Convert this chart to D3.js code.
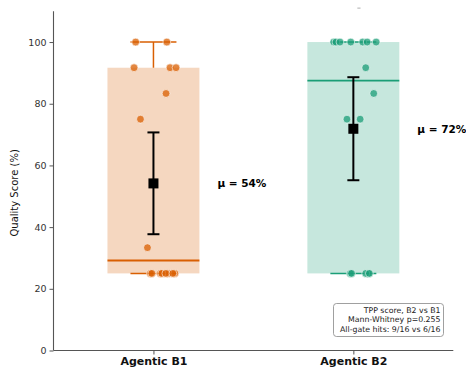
<!DOCTYPE html>
<html>
<head>
<meta charset="utf-8">
<script src="https://cdn.jsdelivr.net/npm/d3@7"></script>
<style>
  body { margin: 0; background: #fff; }
  text { font-family: "DejaVu Sans", sans-serif; }
</style>
</head>
<body>
<div id="vis"></div>
<script>
// Quality score box plot, Agentic B1 vs B2

const FRAME_WIDTH = 466;
const FRAME_HEIGHT = 369;
const MARGINS = {left: 53.5, right: 12.7, top: 11.2, bottom: 18.5};

const VIS_WIDTH = FRAME_WIDTH - MARGINS.left - MARGINS.right;
const VIS_HEIGHT = FRAME_HEIGHT - MARGINS.top - MARGINS.bottom;

// data
const GROUPS = ["Agentic B1", "Agentic B2"];
const COLORS = ["#d95f02", "#1b9e77"];
const Y_TICKS = [0, 20, 40, 60, 80, 100];

const B1_SCORES = [100, 100, 91.67, 91.67, 91.67, 83.33, 75, 33.33,
                   25, 25, 25, 25, 25, 25, 25, 25];
const B1_JITTER = [-0.089, 0.067, -0.097, 0.083, 0.113, 0.063, -0.065, -0.03,
                   -0.015, 0.035, 0.075, 0.107, -0.008, 0.042, 0.062, 0.097];
const B2_SCORES = [100, 100, 100, 100, 100, 100, 100, 91.67, 83.33, 75, 75,
                   25, 25, 25, 25, 25];
const B2_JITTER = [-0.098, -0.087, -0.067, -0.013, 0.047, 0.069, 0.114, 0.062, 0.102, -0.032, 0.034,
                   -0.015, 0.075, 0.062, 0.08, -0.009];

// box stats: q1, median, q3, whisker low, whisker high
const BOX_Q1 = [25, 25];
const BOX_MED = [29.17, 87.5];
const BOX_Q3 = [91.67, 100];
const WHISK_LO = [25, 25];
const WHISK_HI = [100, 100];

// mean and error bar (95% CI)
const MEANS = [54.17, 71.88];
const CI_LO = [37.7, 55.2];
const CI_HI = [70.7, 88.6];
const MEAN_LABELS = ["μ = 54%", "μ = 72%"];

const STATS_TEXT = ["TPP score, B2 vs B1", "Mann-Whitney p=0.255", "All-gate hits: 9/16 vs 6/16"];

const BOX_WIDTH = 0.46;

const xSCALE = d3.scaleLinear().domain([-0.5, 1.5]).range([0, VIS_WIDTH]);
const ySCALE = d3.scaleLinear().domain([0, 110]).range([VIS_HEIGHT, 0]);

const FRAME = d3.select("#vis").append("svg")
    .attr("width", FRAME_WIDTH)
    .attr("height", FRAME_HEIGHT);

const G = FRAME.append("g")
    .attr("transform", "translate(" + MARGINS.left + "," + MARGINS.top + ")");

const boxes = GROUPS.map((g, i) => ({
  i: i, q1: BOX_Q1[i], med: BOX_MED[i], q3: BOX_Q3[i], lo: WHISK_LO[i], hi: WHISK_HI[i], color: COLORS[i]
}));

// boxes
G.selectAll(".box")
    .data(boxes)
    .enter()
    .append("rect")
    .attr("x", (d) => xSCALE(d.i - BOX_WIDTH / 2))
    .attr("y", (d) => ySCALE(d.q3))
    .attr("width", xSCALE(BOX_WIDTH) - xSCALE(0))
    .attr("height", (d) => ySCALE(d.q1) - ySCALE(d.q3))
    .style("fill", (d) => d.color)
    .style("fill-opacity", 0.25);

// medians
G.selectAll(".median")
    .data(boxes)
    .enter()
    .append("line")
    .attr("x1", (d) => xSCALE(d.i - BOX_WIDTH / 2))
    .attr("x2", (d) => xSCALE(d.i + BOX_WIDTH / 2))
    .attr("y1", (d) => ySCALE(d.med))
    .attr("y2", (d) => ySCALE(d.med))
    .style("stroke", (d) => d.color)
    .style("stroke-width", 1.8);

// whiskers
boxes.forEach((d) => {
  [[d.q3, d.hi], [d.q1, d.lo]].forEach((w) => {
    G.append("line")
        .attr("x1", xSCALE(d.i)).attr("x2", xSCALE(d.i))
        .attr("y1", ySCALE(w[0])).attr("y2", ySCALE(w[1]))
        .style("stroke", d.color)
        .style("stroke-width", 1.5);
  });
  [d.lo, d.hi].forEach((v) => {
    G.append("line")
        .attr("x1", xSCALE(d.i - BOX_WIDTH / 4))
        .attr("x2", xSCALE(d.i + BOX_WIDTH / 4))
        .attr("y1", ySCALE(v)).attr("y2", ySCALE(v))
        .style("stroke", d.color)
        .style("stroke-width", 1.5);
  });
});

// strip points
const points = [];
B1_SCORES.forEach((v, j) => points.push({i: 0, v: v, dx: B1_JITTER[j]}));
B2_SCORES.forEach((v, j) => points.push({i: 1, v: v, dx: B2_JITTER[j]}));

G.selectAll(".pt")
    .data(points)
    .enter()
    .append("circle")
    .attr("cx", (d) => xSCALE(d.i + d.dx))
    .attr("cy", (d) => ySCALE(d.v))
    .attr("r", 3.9)
    .style("fill", (d) => COLORS[d.i])
    .style("fill-opacity", 0.75)
    .style("stroke", "#fff")
    .style("stroke-width", 0.6);

// tiny mark above B2 (clipped annotation)
G.append("line")
    .attr("x1", xSCALE(1.02)).attr("x2", xSCALE(1.036))
    .attr("y1", ySCALE(111)).attr("y2", ySCALE(111))
    .style("stroke", "#999")
    .style("stroke-width", 0.8);

// mean +- CI
GROUPS.forEach((g, i) => {
  const x = xSCALE(i);
  G.append("line")
      .attr("x1", x).attr("x2", x)
      .attr("y1", ySCALE(CI_LO[i])).attr("y2", ySCALE(CI_HI[i]))
      .style("stroke", "black")
      .style("stroke-width", 2);
  [CI_LO[i], CI_HI[i]].forEach((v) => {
    G.append("line")
        .attr("x1", x - 6).attr("x2", x + 6)
        .attr("y1", ySCALE(v)).attr("y2", ySCALE(v))
        .style("stroke", "black")
        .style("stroke-width", 2);
  });
  G.append("rect")
      .attr("x", x - 5).attr("y", ySCALE(MEANS[i]) - 5)
      .attr("width", 10).attr("height", 10)
      .style("fill", "black");
  G.append("text")
      .attr("x", xSCALE(i + 0.32))
      .attr("y", ySCALE(MEANS[i]))
      .attr("dy", "0.36em")
      .attr("font-size", "10.5px")
      .attr("font-weight", "bold")
      .text(MEAN_LABELS[i]);
});

// axes
const yAxis = G.append("g")
    .call(d3.axisLeft(ySCALE).tickValues(Y_TICKS).tickSize(4).tickPadding(3));
yAxis.selectAll("text").attr("font-size", "9.5px").style("fill", "#333");

const xAxis = G.append("g")
    .attr("transform", "translate(0," + VIS_HEIGHT + ")")
    .call(d3.axisBottom(xSCALE).tickValues([0, 1]).tickFormat((d) => GROUPS[d]).tickSize(4).tickPadding(3));
xAxis.selectAll("text")
    .attr("font-size", "11px")
    .attr("font-weight", "bold")
    .style("fill", "#111");

[yAxis, xAxis].forEach((a) => {
  a.select(".domain").style("stroke", "#555").style("stroke-width", 1.1)
      .attr("d", a === yAxis ? "M0," + VIS_HEIGHT + "V0" : "M0,0H" + VIS_WIDTH);
  a.selectAll(".tick line").style("stroke", "#555");
});

// y label
G.append("text")
    .attr("transform", "rotate(-90)")
    .attr("x", -VIS_HEIGHT / 2 - 12)
    .attr("y", -36)
    .attr("text-anchor", "middle")
    .attr("font-size", "10px")
    .style("fill", "#111")
    .text("Quality Score (%)");

// stats box
const BOX_X = xSCALE(0.9) + 80;
const statBox = G.append("g");
statBox.append("rect")
    .attr("x", 333.5 - MARGINS.left)
    .attr("y", 303.5 - MARGINS.top)
    .attr("width", 110)
    .attr("height", 33)
    .attr("rx", 3)
    .style("fill", "white")
    .style("stroke", "#888")
    .style("stroke-width", 0.8);
statBox.selectAll("text")
    .data(STATS_TEXT)
    .enter()
    .append("text")
    .attr("x", 440.5 - MARGINS.left)
    .attr("y", (d, k) => 313 - MARGINS.top + k * 9.5)
    .attr("text-anchor", "end")
    .attr("font-size", "7.8px")
    .style("fill", "#222")
    .text((d) => d);
</script>
</body>
</html>
